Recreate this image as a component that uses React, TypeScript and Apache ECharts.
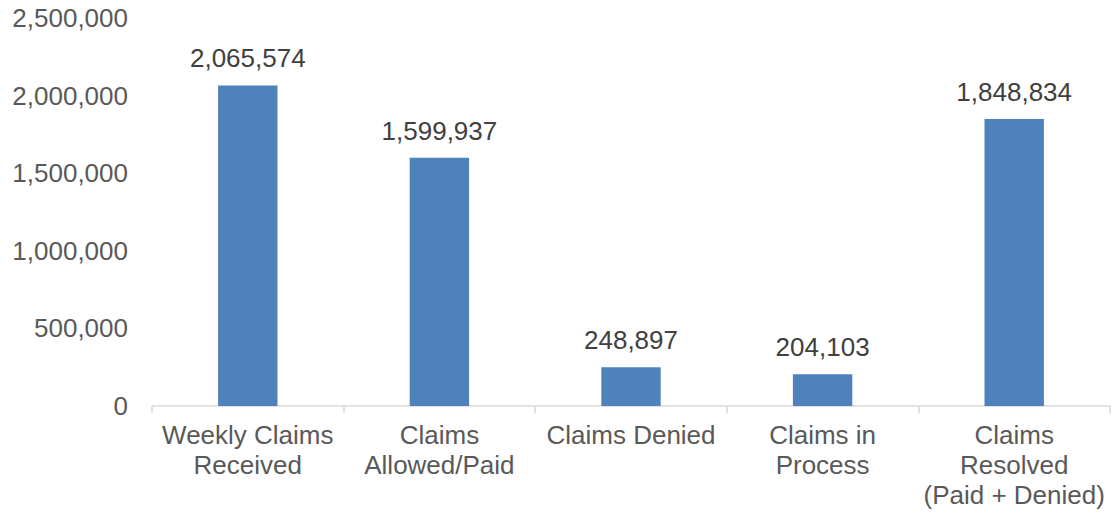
import React, { useEffect, useRef } from "react";
import * as echarts from "echarts";

const categories = [
  "Weekly Claims\nReceived",
  "Claims\nAllowed/Paid",
  "Claims Denied",
  "Claims in\nProcess",
  "Claims\nResolved\n(Paid + Denied)",
];
const values = [2065574, 1599937, 248897, 204103, 1848834];
const yTicks = { min: 0, max: 2500000, interval: 500000 };

const fmt = (v: number) => v.toLocaleString("en-US");

export default function App() {
  const ref = useRef<HTMLDivElement>(null);
  useEffect(() => {
    if (!ref.current) return;
    const chart = echarts.init(ref.current, null, { renderer: "svg" });
    const font = "'Liberation Sans', Arial, sans-serif";
    const color = "#595959";
    chart.setOption({
      animation: false,
      grid: { left: 152, right: 5, top: 18, bottom: 110, containLabel: false },
      xAxis: {
        type: "category",
        data: categories,
        axisLine: { show: true, lineStyle: { color: "#d9d9d9", width: 1.5 } },
        axisTick: { show: true, length: 7, lineStyle: { color: "#d9d9d9", width: 1.5 } },
        axisLabel: {
          color,
          fontFamily: font,
          fontSize: 26,
          lineHeight: 30,
          margin: 14,
          interval: 0,
        },
      },
      yAxis: {
        type: "value",
        min: yTicks.min,
        max: yTicks.max,
        interval: yTicks.interval,
        splitLine: { show: false },
        axisLine: { show: false },
        axisTick: { show: false },
        axisLabel: {
          color,
          fontFamily: font,
          fontSize: 26,
          margin: 24,
          formatter: (v: number) => fmt(v),
        },
      },
      series: [
        {
          type: "bar",
          data: values,
          barWidth: "31%",
          itemStyle: { color: "#4f81bd" },
          label: {
            show: true,
            position: "top",
            distance: 14,
            color: "#404040",
            fontFamily: font,
            fontSize: 26,
            formatter: (p: any) => fmt(p.value),
          },
        },
      ],
    });
    return () => chart.dispose();
  }, []);
  return <div ref={ref} style={{ width: 1115, height: 516, position: "absolute", left: 0, top: 0 }} />;
}
